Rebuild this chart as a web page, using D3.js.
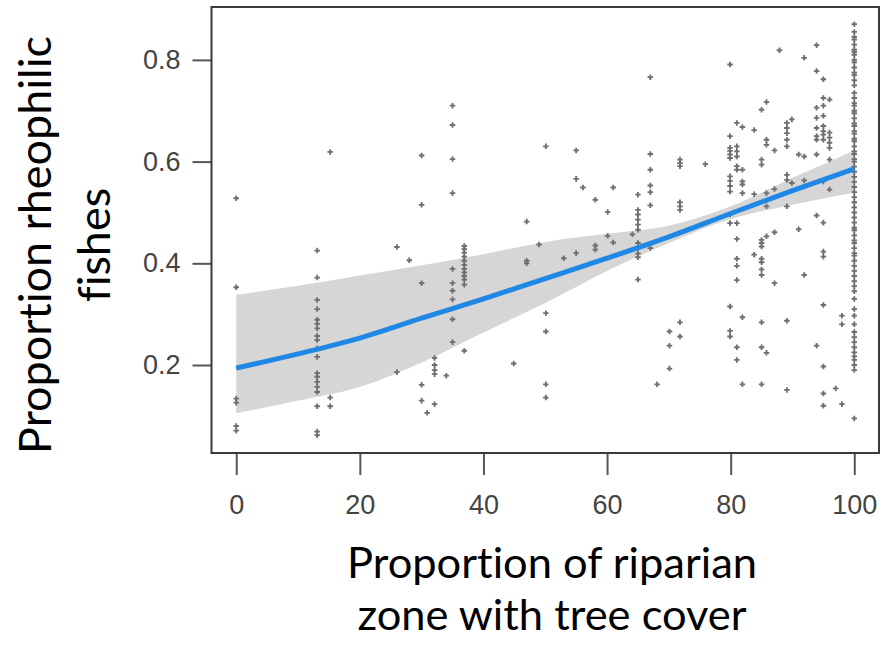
<!DOCTYPE html>
<html>
<head>
<meta charset="utf-8">
<script src="https://cdn.jsdelivr.net/npm/d3@7"></script>
<style>
  body { margin: 0; background: #fff; }
  svg { display: block; }
</style>
</head>
<body>
<div id="chart"></div>
<script>
// fitted curve
var fitX = [0, 10, 20, 30, 40, 50, 60, 70, 80, 90, 100];
var fitMean = [0.194, 0.222, 0.253, 0.292, 0.330, 0.370, 0.410, 0.452, 0.498, 0.543, 0.586];
var fitUpper = [0.338, 0.356, 0.376, 0.396, 0.418, 0.442, 0.458, 0.474, 0.512, 0.568, 0.622];
var fitLower = [0.105, 0.130, 0.157, 0.205, 0.264, 0.322, 0.385, 0.440, 0.487, 0.515, 0.539];

// observations, grouped by x position
var columnX = [0, 13.1, 15.2, 26, 28, 30, 30.9, 32.1, 34, 35, 36.9, 44.9, 47, 49, 50.1, 53, 55, 56.1,
    58.1, 60.1, 61, 64.1, 65, 67, 68.1, 70.1, 71.8, 75.9, 79.9, 81, 81.9, 83.8, 85, 85.8, 87.1,
    87.9, 89.1, 89.9, 91, 91.9, 93.9, 95, 96, 97, 98, 100];
var columnY = [
    [0.528, 0.353, 0.134, 0.126, 0.080, 0.071],
    [0.425, 0.372, 0.328, 0.31, 0.289, 0.281, 0.272, 0.257, 0.249, 0.233, 0.216, 0.184, 0.177, 0.167, 0.157, 0.147, 0.119, 0.069, 0.062],
    [0.619, 0.136, 0.119],
    [0.432, 0.186],
    [0.406],
    [0.612, 0.515, 0.361, 0.161, 0.13],
    [0.106],
    [0.214, 0.2, 0.19, 0.182, 0.123],
    [0.179],
    [0.71, 0.672, 0.605, 0.538, 0.389, 0.361, 0.346, 0.329, 0.29, 0.245],
    [0.434, 0.428, 0.421, 0.413, 0.405, 0.397, 0.389, 0.382, 0.375, 0.368, 0.358, 0.228],
    [0.203],
    [0.482, 0.405, 0.4],
    [0.437],
    [0.63, 0.302, 0.266, 0.162, 0.136],
    [0.41],
    [0.622, 0.566, 0.42],
    [0.549],
    [0.525, 0.435, 0.427],
    [0.501, 0.454],
    [0.549, 0.441],
    [0.457],
    [0.535, 0.505, 0.496, 0.486, 0.476, 0.466, 0.44, 0.43, 0.419, 0.412, 0.368],
    [0.766, 0.615, 0.584, 0.553, 0.54, 0.514, 0.43],
    [0.162],
    [0.266, 0.238, 0.193],
    [0.604, 0.597, 0.591, 0.52, 0.512, 0.505, 0.284, 0.256],
    [0.595],
    [0.791, 0.65, 0.627, 0.621, 0.614, 0.607, 0.571, 0.562, 0.552, 0.541, 0.496, 0.479, 0.315, 0.267, 0.256],
    [0.676, 0.63, 0.62, 0.61, 0.591, 0.584, 0.479, 0.448, 0.409, 0.395, 0.367, 0.235, 0.21],
    [0.668, 0.584, 0.561, 0.555, 0.538, 0.294, 0.162],
    [0.662, 0.536, 0.417],
    [0.702, 0.604, 0.594, 0.446, 0.44, 0.433, 0.409, 0.402, 0.388, 0.377, 0.284, 0.235, 0.162],
    [0.717, 0.643, 0.633, 0.538, 0.512, 0.453, 0.224],
    [0.622, 0.546, 0.461, 0.361],
    [0.819],
    [0.676, 0.666, 0.656, 0.643, 0.63, 0.574, 0.564, 0.512, 0.287, 0.151],
    [0.683, 0.558],
    [0.614, 0.467],
    [0.804, 0.61, 0.563, 0.377],
    [0.829, 0.778, 0.706, 0.686, 0.666, 0.65, 0.643, 0.614, 0.494, 0.238],
    [0.762, 0.725, 0.71, 0.69, 0.67, 0.66, 0.653, 0.643, 0.561, 0.48, 0.423, 0.413, 0.318, 0.197, 0.144, 0.12],
    [0.722, 0.657, 0.647, 0.637, 0.627, 0.604, 0.545],
    [0.154],
    [0.297, 0.28, 0.123],
    [0.87, 0.855, 0.845, 0.84, 0.83, 0.82, 0.815, 0.81, 0.8, 0.795, 0.785, 0.775, 0.77, 0.76, 0.75,
     0.735, 0.725, 0.715, 0.71, 0.7, 0.695, 0.685, 0.675, 0.67, 0.66, 0.655, 0.645, 0.64, 0.63, 0.62,
     0.615, 0.605, 0.6, 0.59, 0.58, 0.57, 0.56, 0.55, 0.54, 0.53, 0.52, 0.51, 0.5, 0.49, 0.48, 0.47,
     0.465, 0.455, 0.445, 0.44, 0.43, 0.42, 0.415, 0.405, 0.395, 0.385, 0.375, 0.365, 0.355, 0.345,
     0.33, 0.31, 0.297, 0.28, 0.265, 0.255, 0.245, 0.235, 0.225, 0.217, 0.21, 0.2, 0.19, 0.095]
];

var xTicks = [0, 20, 40, 60, 80, 100];
var yTicks = [0.2, 0.4, 0.6, 0.8];
var xTitle = ['Proportion of riparian', 'zone with tree cover'];
var yTitle = ['Proportion rheophilic', 'fishes'];

var width = 890,
    height = 648,
    box = { left: 211.5, right: 879, top: 7, bottom: 453 };

var svg = d3.select('#chart')
    .append('svg')
    .attr('width', width)
    .attr('height', height);

var x = d3.scaleLinear().domain([-4, 104]).range([box.left, box.right]);
var y = d3.scaleLinear().domain([0.027, 0.904]).range([box.bottom, box.top]);

var fit = fitX.map(function(d, i) {
    return { x: d, mean: fitMean[i], lo: fitLower[i], hi: fitUpper[i] };
});

var points = [];
columnX.forEach(function(cx, i) {
    columnY[i].forEach(function(v) { points.push({ x: cx, y: v }); });
});

// confidence band
svg.append('path')
    .datum(fit)
    .attr('fill', '#d6d6d6')
    .attr('d', d3.area()
        .curve(d3.curveMonotoneX)
        .x(function(d) { return x(d.x); })
        .y0(function(d) { return y(d.lo); })
        .y1(function(d) { return y(d.hi); }));

// scatter
svg.append('g')
    .selectAll('path')
    .data(points)
    .enter()
    .append('path')
    .attr('transform', function(d) { return 'translate(' + x(d.x) + ',' + y(d.y) + ')'; })
    .attr('d', d3.symbol().type(d3.symbolCross).size(17))
    .attr('fill', '#6e6e6e');

// fitted line
svg.append('path')
    .datum(fit)
    .attr('fill', 'none')
    .attr('stroke', '#1f87e5')
    .attr('stroke-width', 5)
    .attr('d', d3.line()
        .curve(d3.curveMonotoneX)
        .x(function(d) { return x(d.x); })
        .y(function(d) { return y(d.mean); }));

// axes
var xAxis = svg.append('g')
    .attr('transform', 'translate(0,' + box.bottom + ')')
    .call(d3.axisBottom(x).tickValues(xTicks).tickSize(22).tickPadding(20).tickFormat(d3.format('d')));
var yAxis = svg.append('g')
    .attr('transform', 'translate(' + box.left + ',0)')
    .call(d3.axisLeft(y).tickValues(yTicks).tickSize(19).tickPadding(12).tickFormat(d3.format('.1f')));

[xAxis, yAxis].forEach(function(a) {
    a.select('.domain').remove();
    a.selectAll('line').attr('stroke', '#555').attr('stroke-width', 2);
    a.selectAll('text')
        .attr('fill', '#444')
        .style('font-family', 'Liberation Sans, Arial, sans-serif')
        .style('font-size', '27px');
});

// plot frame
svg.append('rect')
    .attr('x', box.left)
    .attr('y', box.top)
    .attr('width', box.right - box.left)
    .attr('height', box.bottom - box.top)
    .attr('fill', 'none')
    .attr('stroke', '#3a3a3a')
    .attr('stroke-width', 2);

// titles, scaled so the first line gets the width it has in the picture
function addTitle(g, lines, baselines, target) {
    var t = g.selectAll('text')
        .data(lines)
        .enter()
        .append('text')
        .attr('text-anchor', 'middle')
        .attr('y', function(d, i) { return baselines[i]; })
        .style('font-family', 'Lato, sans-serif')
        .style('font-variant-ligatures', 'none')
        .style('font-size', '40px')
        .attr('fill', '#000')
        .text(function(d) { return d; });
    var w = t.node().getComputedTextLength();
    t.style('font-size', (40 * target / w) + 'px');
}

var xt = svg.append('g').attr('transform', 'translate(552,0)');
addTitle(xt, xTitle, [578, 630], 410);

var yt = svg.append('g').attr('transform', 'translate(0,245) rotate(-90)');
addTitle(yt, yTitle, [51, 110], 418);
</script>
</body>
</html>
